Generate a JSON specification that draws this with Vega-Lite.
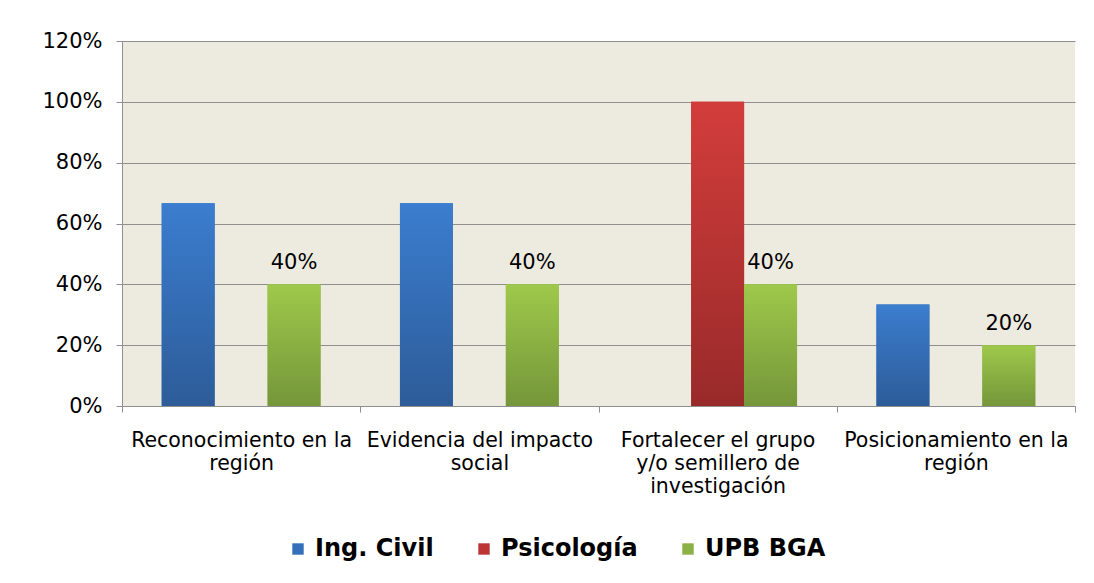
{
  "$schema": "https://vega.github.io/schema/vega-lite/v6.json",
  "width": 953,
  "height": 365,
  "autosize": "none",
  "padding": {"left": 122, "top": 41, "right": 19, "bottom": 177},
  "background": "white",
  "config": {
    "view": {"fill": "#EDEAE0", "stroke": null},
    "font": "DejaVu Sans"
  },
  "data": {
    "values": [
      {"categoria": "Reconocimiento en la región", "serie": "Ing. Civil", "valor": 0.6667},
      {"categoria": "Reconocimiento en la región", "serie": "UPB BGA", "valor": 0.4},
      {"categoria": "Evidencia del impacto social", "serie": "Ing. Civil", "valor": 0.6667},
      {"categoria": "Evidencia del impacto social", "serie": "UPB BGA", "valor": 0.4},
      {"categoria": "Fortalecer el grupo y/o semillero de investigación", "serie": "Psicología", "valor": 1.0},
      {"categoria": "Fortalecer el grupo y/o semillero de investigación", "serie": "UPB BGA", "valor": 0.4},
      {"categoria": "Posicionamiento en la región", "serie": "Ing. Civil", "valor": 0.3333},
      {"categoria": "Posicionamiento en la región", "serie": "UPB BGA", "valor": 0.2}
    ]
  },
  "encoding": {
    "x": {
      "field": "categoria",
      "type": "nominal",
      "sort": ["Reconocimiento en la región", "Evidencia del impacto social", "Fortalecer el grupo y/o semillero de investigación", "Posicionamiento en la región"],
      "scale": {"paddingInner": 0, "paddingOuter": 0},
      "axis": {
        "title": null,
        "labelAngle": 0,
        "labelFontSize": 20.5,
        "labelColor": "#000000",
        "labelPadding": 18,
        "labelLineHeight": 23,
        "labelLimit": 0,
        "labelBaseline": "top",
        "tickBand": "extent",
        "tickSize": 6,
        "tickColor": "#8F8F8F",
        "domainColor": "#8F8F8F",
        "grid": false,
        "labelExpr": "datum.label == 'Reconocimiento en la región' ? ['Reconocimiento en la', 'región'] : datum.label == 'Evidencia del impacto social' ? ['Evidencia del impacto', 'social'] : datum.label == 'Fortalecer el grupo y/o semillero de investigación' ? ['Fortalecer el grupo', 'y/o semillero de', 'investigación'] : datum.label == 'Posicionamiento en la región' ? ['Posicionamiento en la', 'región'] : ''"
      }
    },
    "xOffset": {
      "field": "serie",
      "type": "nominal",
      "scale": {"domain": ["Ing. Civil", "Psicología", "UPB BGA"], "paddingInner": 0, "paddingOuter": 0.75}
    },
    "y": {
      "field": "valor",
      "type": "quantitative",
      "scale": {"domain": [0, 1.2], "nice": false},
      "axis": {
        "title": null,
        "values": [0, 0.2, 0.4, 0.6, 0.8, 1.0, 1.2],
        "format": ".0%",
        "labelFontSize": 21,
        "labelColor": "#000000",
        "labelPadding": 14,
        "tickSize": 6,
        "tickColor": "#8F8F8F",
        "domainColor": "#8F8F8F",
        "grid": true,
        "gridColor": "#8F8F8F",
        "gridOpacity": 1
      }
    }
  },
  "layer": [
    {
      "mark": {"type": "bar"},
      "encoding": {
        "color": {
          "field": "serie",
          "type": "nominal",
          "scale": {
            "domain": ["Ing. Civil", "Psicología", "UPB BGA"],
            "range": ["#3470BA", "#BC3434", "#8BB043"]
          },
          "legend": {
            "orient": "none",
            "legendX": 164,
            "legendY": 496,
            "direction": "horizontal",
            "title": null,
            "symbolType": "square",
            "symbolSize": 130,
            "symbolStrokeWidth": 0,
            "labelFontSize": 24,
            "labelFontWeight": "bold",
            "labelColor": "#000000",
            "labelOffset": 5,
            "columnPadding": 38
          }
        }
      }
    },
    {
      "transform": [{"filter": "datum.serie == 'Ing. Civil'"}],
      "mark": {"type": "bar", "color": {"gradient": "linear", "x1": 0, "y1": 0, "x2": 0, "y2": 1, "stops": [{"offset": 0, "color": "#3B7DCF"}, {"offset": 1, "color": "#2D5C98"}]}},
      "encoding": {}
    },
    {
      "transform": [{"filter": "datum.serie == 'Psicología'"}],
      "mark": {"type": "bar", "color": {"gradient": "linear", "x1": 0, "y1": 0, "x2": 0, "y2": 1, "stops": [{"offset": 0, "color": "#D23D3B"}, {"offset": 1, "color": "#992A2A"}]}},
      "encoding": {}
    },
    {
      "transform": [{"filter": "datum.serie == 'UPB BGA'"}],
      "mark": {"type": "bar", "color": {"gradient": "linear", "x1": 0, "y1": 0, "x2": 0, "y2": 1, "stops": [{"offset": 0, "color": "#9EC94B"}, {"offset": 1, "color": "#75963A"}]}},
      "encoding": {}
    },
    {
      "transform": [{"filter": "datum.serie == 'UPB BGA'"}],
      "mark": {"type": "text", "dy": -15, "baseline": "alphabetic", "fontSize": 21, "color": "#000000"},
      "encoding": {
        "text": {"field": "valor", "type": "quantitative", "format": ".0%"}
      }
    }
  ]
}
